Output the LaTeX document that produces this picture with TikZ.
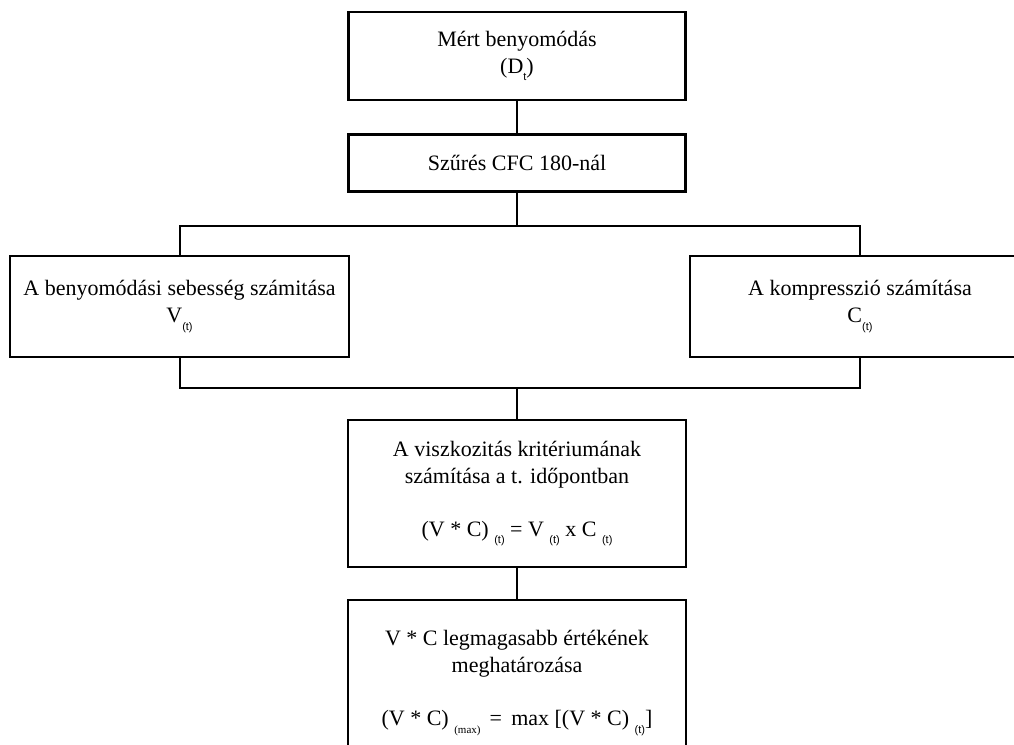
\documentclass[tikz,border=0pt]{standalone}
\usepackage{fontspec}
\setmainfont{Liberation Serif}
\newfontfamily\idxfont{Liberation Sans}
\usetikzlibrary{positioning,calc}
\newcommand{\lowidx}[1]{\raisebox{-0.7ex}{\idxfont\fontsize{11}{11}\selectfont #1}}

\begin{document}
\begin{tikzpicture}[x=1pt,y=1pt,
  box/.style={draw,line width=2.2pt,align=center,inner sep=0pt,font=\fontsize{22}{27}\selectfont},
  link/.style={line width=2pt}]
  \clip (0,0) rectangle (1014,-744);

  % boxes
  \node[box,minimum width=337pt,minimum height=88pt] (meres) at (517,-56) {M\'ert benyom\'od\'as\\(D\lowidx{t})};
  \node[box,minimum width=337pt,minimum height=57pt] (szures) at (517,-163) {Sz\H{u}r\'es CFC 180-n\'al};
  \node[box,minimum width=339pt,minimum height=101pt] (sebesseg) at (179.5,-306.5) {A benyom\'od\'asi sebess\'eg sz\'amit\'asa\\V\lowidx{(t)}};
  \node[box,minimum width=340pt,minimum height=101pt] (kompr) at (860,-306.5) {A kompresszi\'o sz\'am\'it\'asa\\C\lowidx{(t)}};
  \node[box,minimum width=338pt,minimum height=147pt] (visz) at (517,-493.5)
    {A viszkozit\'as krit\'eriumának\\sz\'am\'it\'asa a t. id\H{o}pontban\\[26pt]
     (V * C) \lowidx{(t)} = V \lowidx{(t)} x C \lowidx{(t)}};
  \node[box,minimum width=338pt,minimum height=166pt] (vmax) at (517,-683)
    {V * C legmagasabb \'ert\'ek\'enek\\meghat\'aroz\'asa\\[26pt]
     (V * C) \lowidx{\rmfamily(max)} \,=\, max [(V * C) \lowidx{(t)}]};

  % connectors
  \coordinate (split) at (517,-226);
  \coordinate (join) at (517,-388);
  \draw[link] (meres) -- (szures);
  \draw[link] (szures.south) -- (split);
  \draw[link] (split) -| (sebesseg.north);
  \draw[link] (split) -| (kompr.north);
  \draw[link] (sebesseg.south) |- (join);
  \draw[link] (kompr.south) |- (join);
  \draw[link] (join) -- (visz.north);
  \draw[link] (visz) -- (vmax);
\end{tikzpicture}
\end{document}
